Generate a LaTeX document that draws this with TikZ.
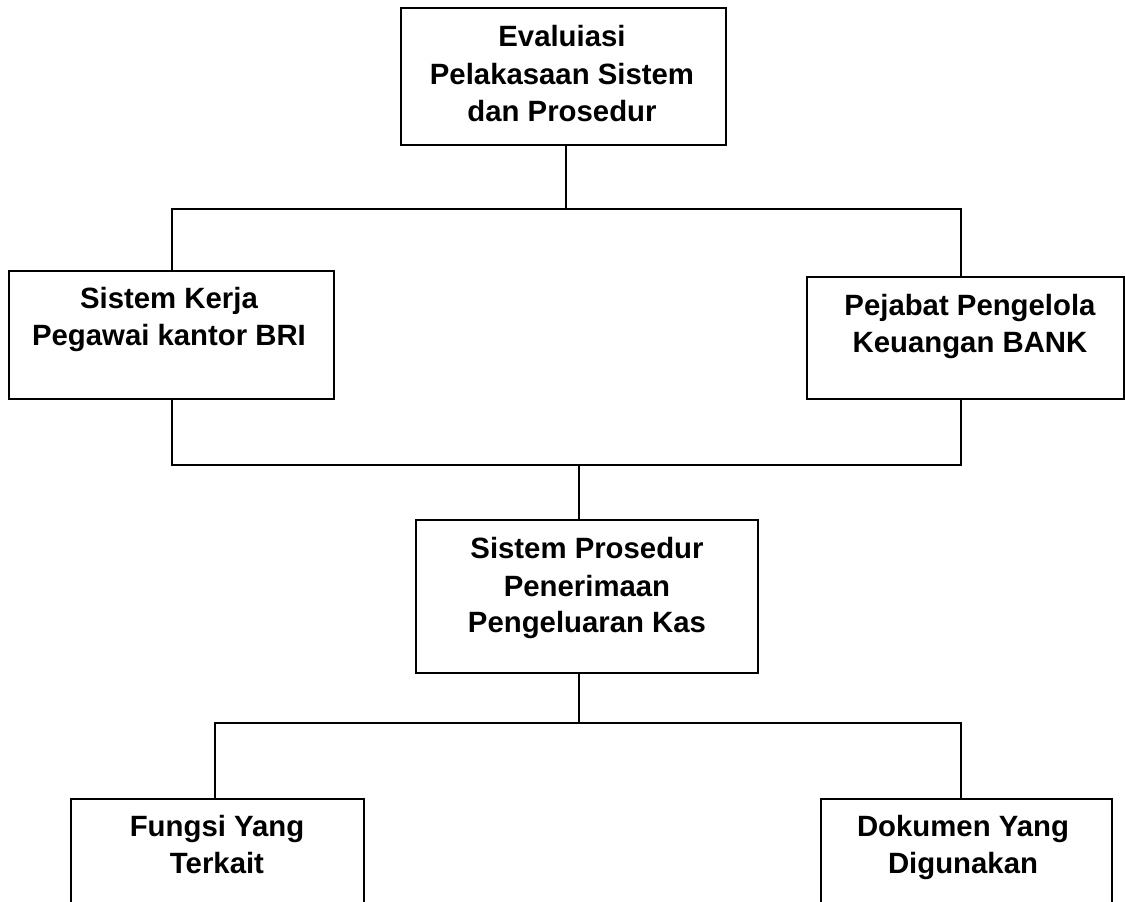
\documentclass[tikz,border=0pt]{standalone}
\usepackage{fontspec}
\setmainfont{Liberation Sans}
\usetikzlibrary{fit}
\begin{document}
\begin{tikzpicture}[x=0.75pt,y=-0.75pt,
  box/.style={draw=black,line width=1.2pt,rectangle,inner sep=0pt,fill=white},
  txt/.style={anchor=base,inner sep=0pt,font=\fontsize{22}{28}\selectfont\bfseries},
  conn/.style={draw=black,line width=1.2pt}]
\useasboundingbox (0,0) rectangle (1125,901);
\clip (0,0) rectangle (1125,901);
\fill[white] (0,0) rectangle (1125,901);
% boxes
\node[box,fit={(401,8) (726,145)}] (top) {};
\node[box,fit={(9,271) (334,399)}] (left) {};
\node[box,fit={(807,277) (1124,399)}] (right) {};
\node[box,fit={(416,520) (758,673)}] (mid) {};
\node[box,fit={(71,799) (364,940)}] (bl) {};
\node[box,fit={(821,799) (1112,940)}] (br) {};
% texts
\node[txt] (t1) at (562,46) {Evaluiasi};
\node[txt] (t2) at (562,84) {Pelakasaan Sistem};
\node[txt] (t3) at (562,121) {dan Prosedur};
\node[txt] (l1) at (169,308) {Sistem Kerja};
\node[txt] (l2) at (169,345) {Pegawai kantor BRI};
\node[txt] (r1) at (970,315) {Pejabat Pengelola};
\node[txt] (r2) at (970,352) {Keuangan BANK};
\node[txt] (m1) at (587,558) {Sistem Prosedur};
\node[txt] (m2) at (587,596) {Penerimaan};
\node[txt] (m3) at (587,632) {Pengeluaran Kas};
\node[txt] (bl1) at (217,836) {Fungsi Yang};
\node[txt] (bl2) at (217,873) {Terkait};
\node[txt] (br1) at (963,836) {Dokumen Yang};
\node[txt] (br2) at (963,873) {Digunakan};
% bus coordinates
\coordinate (busA) at (566,209);
\coordinate (busAL) at (172,209);
\coordinate (busAR) at (961,209);
\coordinate (busBL) at (172,465);
\coordinate (busBR) at (961,465);
\coordinate (busBM) at (579,465);
\coordinate (busCM) at (579,723);
\coordinate (busCL) at (215,723);
\coordinate (busCR) at (961,723);
% connectors
\draw[conn] (top.south -| busA) -- (busA);
\draw[conn] (left.north -| busAL) -- (busAL) -- (busAR) -- (right.north -| busAR);
\draw[conn] (left.south -| busBL) -- (busBL) -- (busBR) -- (right.south -| busBR);
\draw[conn] (busBM) -- (mid.north -| busBM);
\draw[conn] (mid.south -| busCM) -- (busCM);
\draw[conn] (bl.north -| busCL) -- (busCL) -- (busCR) -- (br.north -| busCR);
\end{tikzpicture}
\end{document}
